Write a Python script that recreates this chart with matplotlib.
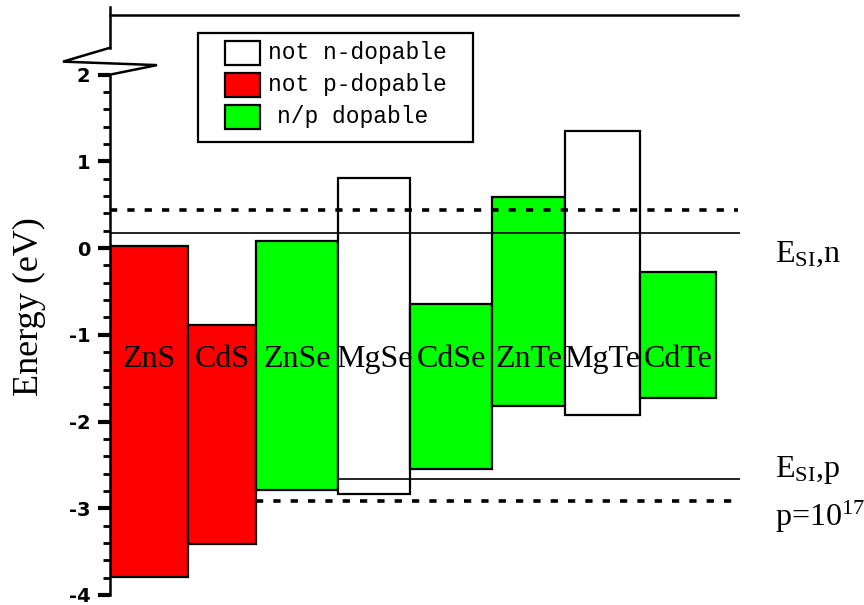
import numpy as np
import matplotlib
matplotlib.use("Agg")
import matplotlib.pyplot as plt
from matplotlib.patches import Rectangle
from matplotlib.ticker import FixedLocator, FixedFormatter

plt.rcParams['mathtext.fontset'] = 'custom'
plt.rcParams['mathtext.rm'] = 'Liberation Serif'
plt.rcParams['mathtext.it'] = 'Liberation Serif:italic'

# ---------------- data ----------------
materials = ["ZnS", "CdS", "ZnSe", "MgSe", "CdSe", "ZnTe", "MgTe", "CdTe"]
cb_top = [0.02, -0.89, 0.08, 0.81, -0.65, 0.59, 1.35, -0.27]      # top of bar (eV)
vb_bottom = [-3.79, -3.41, -2.79, -2.83, -2.55, -1.82, -1.93, -1.73]  # bottom of bar (eV)
dop_class = ["not p", "not p", "np", "not n", "np", "np", "not n", "np"]

level_n_dashed = 0.44
level_esi_n = 0.17
level_esi_p = -2.66
level_p_dashed = -2.92

ytick_vals = [-4, -3, -2, -1, 0, 1, 2]
ytick_labels = ["-4", "-3", "-2", "-1", "0", "1", "2"]

legend_labels = ["not n-dopable", "not p-dopable", "n/p dopable"]
legend_keys = ["not n", "not p", "np"]

# ---------------- layout / style ----------------
W, H = 864, 605
bar_edges = [110, 188, 256, 338, 410, 492, 565, 640, 716]  # pixel-like x units
colors = {"not n": "#ffffff", "not p": "#ff0000", "np": "#00ff00"}

fig = plt.figure(figsize=(W / 100, H / 100), dpi=100)
y_lo, y_hi = -4.0, 2.78
ax = fig.add_axes([110 / W, (H - 595) / H, 630 / W, 588 / H])
ax.set_xlim(110, 740)
ax.set_ylim(y_lo, y_hi)

# bars
lefts = bar_edges[:-1]
widths = np.diff(bar_edges)
for i, m in enumerate(materials):
    ax.bar(lefts[i], cb_top[i] - vb_bottom[i], width=widths[i], bottom=vb_bottom[i],
           align='edge', color=colors[dop_class[i]], edgecolor='black', linewidth=1.6,
           zorder=2)
    ax.text(lefts[i] + widths[i] / 2, -1.37, m, ha='center', va='baseline',
            fontsize=23, family='Liberation Serif', zorder=4)

# reference levels
dash = (0, (2.0, 2.8))
ax.hlines(level_n_dashed, 110, 738, colors='black', linewidth=2.6, linestyles=[dash], zorder=3)
ax.hlines(level_esi_n, 110, 740, colors='black', linewidth=1.2, zorder=3)
ax.hlines(level_esi_p, bar_edges[3], 740, colors='black', linewidth=1.2, zorder=3)
ax.hlines(level_p_dashed, bar_edges[2], 738, colors='black', linewidth=2.6, linestyles=[dash], zorder=3)

# axes styling
for s in ["top", "right", "bottom"]:
    ax.spines[s].set_visible(False)
ax.spines["left"].set_bounds(-4, 2)
ax.spines["left"].set_linewidth(1.8)
ax.set_xticks([])
ax.yaxis.set_major_locator(FixedLocator(ytick_vals))
ax.yaxis.set_major_formatter(FixedFormatter(ytick_labels))
ax.yaxis.set_minor_locator(FixedLocator(np.arange(-4, 2.001, 0.2)))
ax.tick_params(axis='y', which='major', length=9, width=3, pad=5, labelsize=14)
ax.tick_params(axis='y', which='minor', length=5, width=2)
for lab in ax.get_yticklabels():
    lab.set_fontweight('bold')
    lab.set_family('DejaVu Sans')

ax.set_ylabel("Energy (eV)", fontsize=26, family='Liberation Serif', va='center')
ax.yaxis.set_label_coords((29 - 110) / 630, (595 - 307) / 588)

# broken-axis decoration (top segment, break zigzag, top frame line)
kw = dict(color='black', linewidth=1.8, clip_on=False, zorder=5, solid_joinstyle='miter')
ax.plot([110, 110], [2.31, y_hi], **kw)
ax.plot([110, 63, 157, 110], [2.31, 2.15, 2.11, 2.0], **kw)
ax.plot([110, 738], [2.69, 2.69], **kw)

# legend (manual)
fig.patches.append(Rectangle((198 / W, 1 - 142 / H), 275 / W, 109 / H,
                             transform=fig.transFigure, facecolor='white',
                             edgecolor='black', linewidth=1.6, zorder=6))
row_y = [53, 85, 117]
text_x = [268, 268, 277]
for k, lab in enumerate(legend_labels):
    fig.patches.append(Rectangle((225 / W, 1 - (row_y[k] + 12) / H), 35 / W, 24 / H,
                                 transform=fig.transFigure,
                                 facecolor=colors[legend_keys[k]], edgecolor='black',
                                 linewidth=1.6, zorder=7))
    fig.text(text_x[k] / W, 1 - row_y[k] / H, lab, ha='left', va='center',
             fontsize=16.5, family='Liberation Mono', zorder=8)

# right-side annotations
fig.text(775 / W, 1 - 262 / H, r'E$_{\mathrm{SI}}$,n', fontsize=23,
         family='Liberation Serif', va='baseline', ha='left')
fig.text(775 / W, 1 - 477 / H, r'E$_{\mathrm{SI}}$,p', fontsize=23,
         family='Liberation Serif', va='baseline', ha='left')
fig.text(775 / W, 1 - 526 / H, r'p=10$^{17}$', fontsize=23,
         family='Liberation Serif', va='baseline', ha='left')

fig.savefig("out.png", dpi=100)
